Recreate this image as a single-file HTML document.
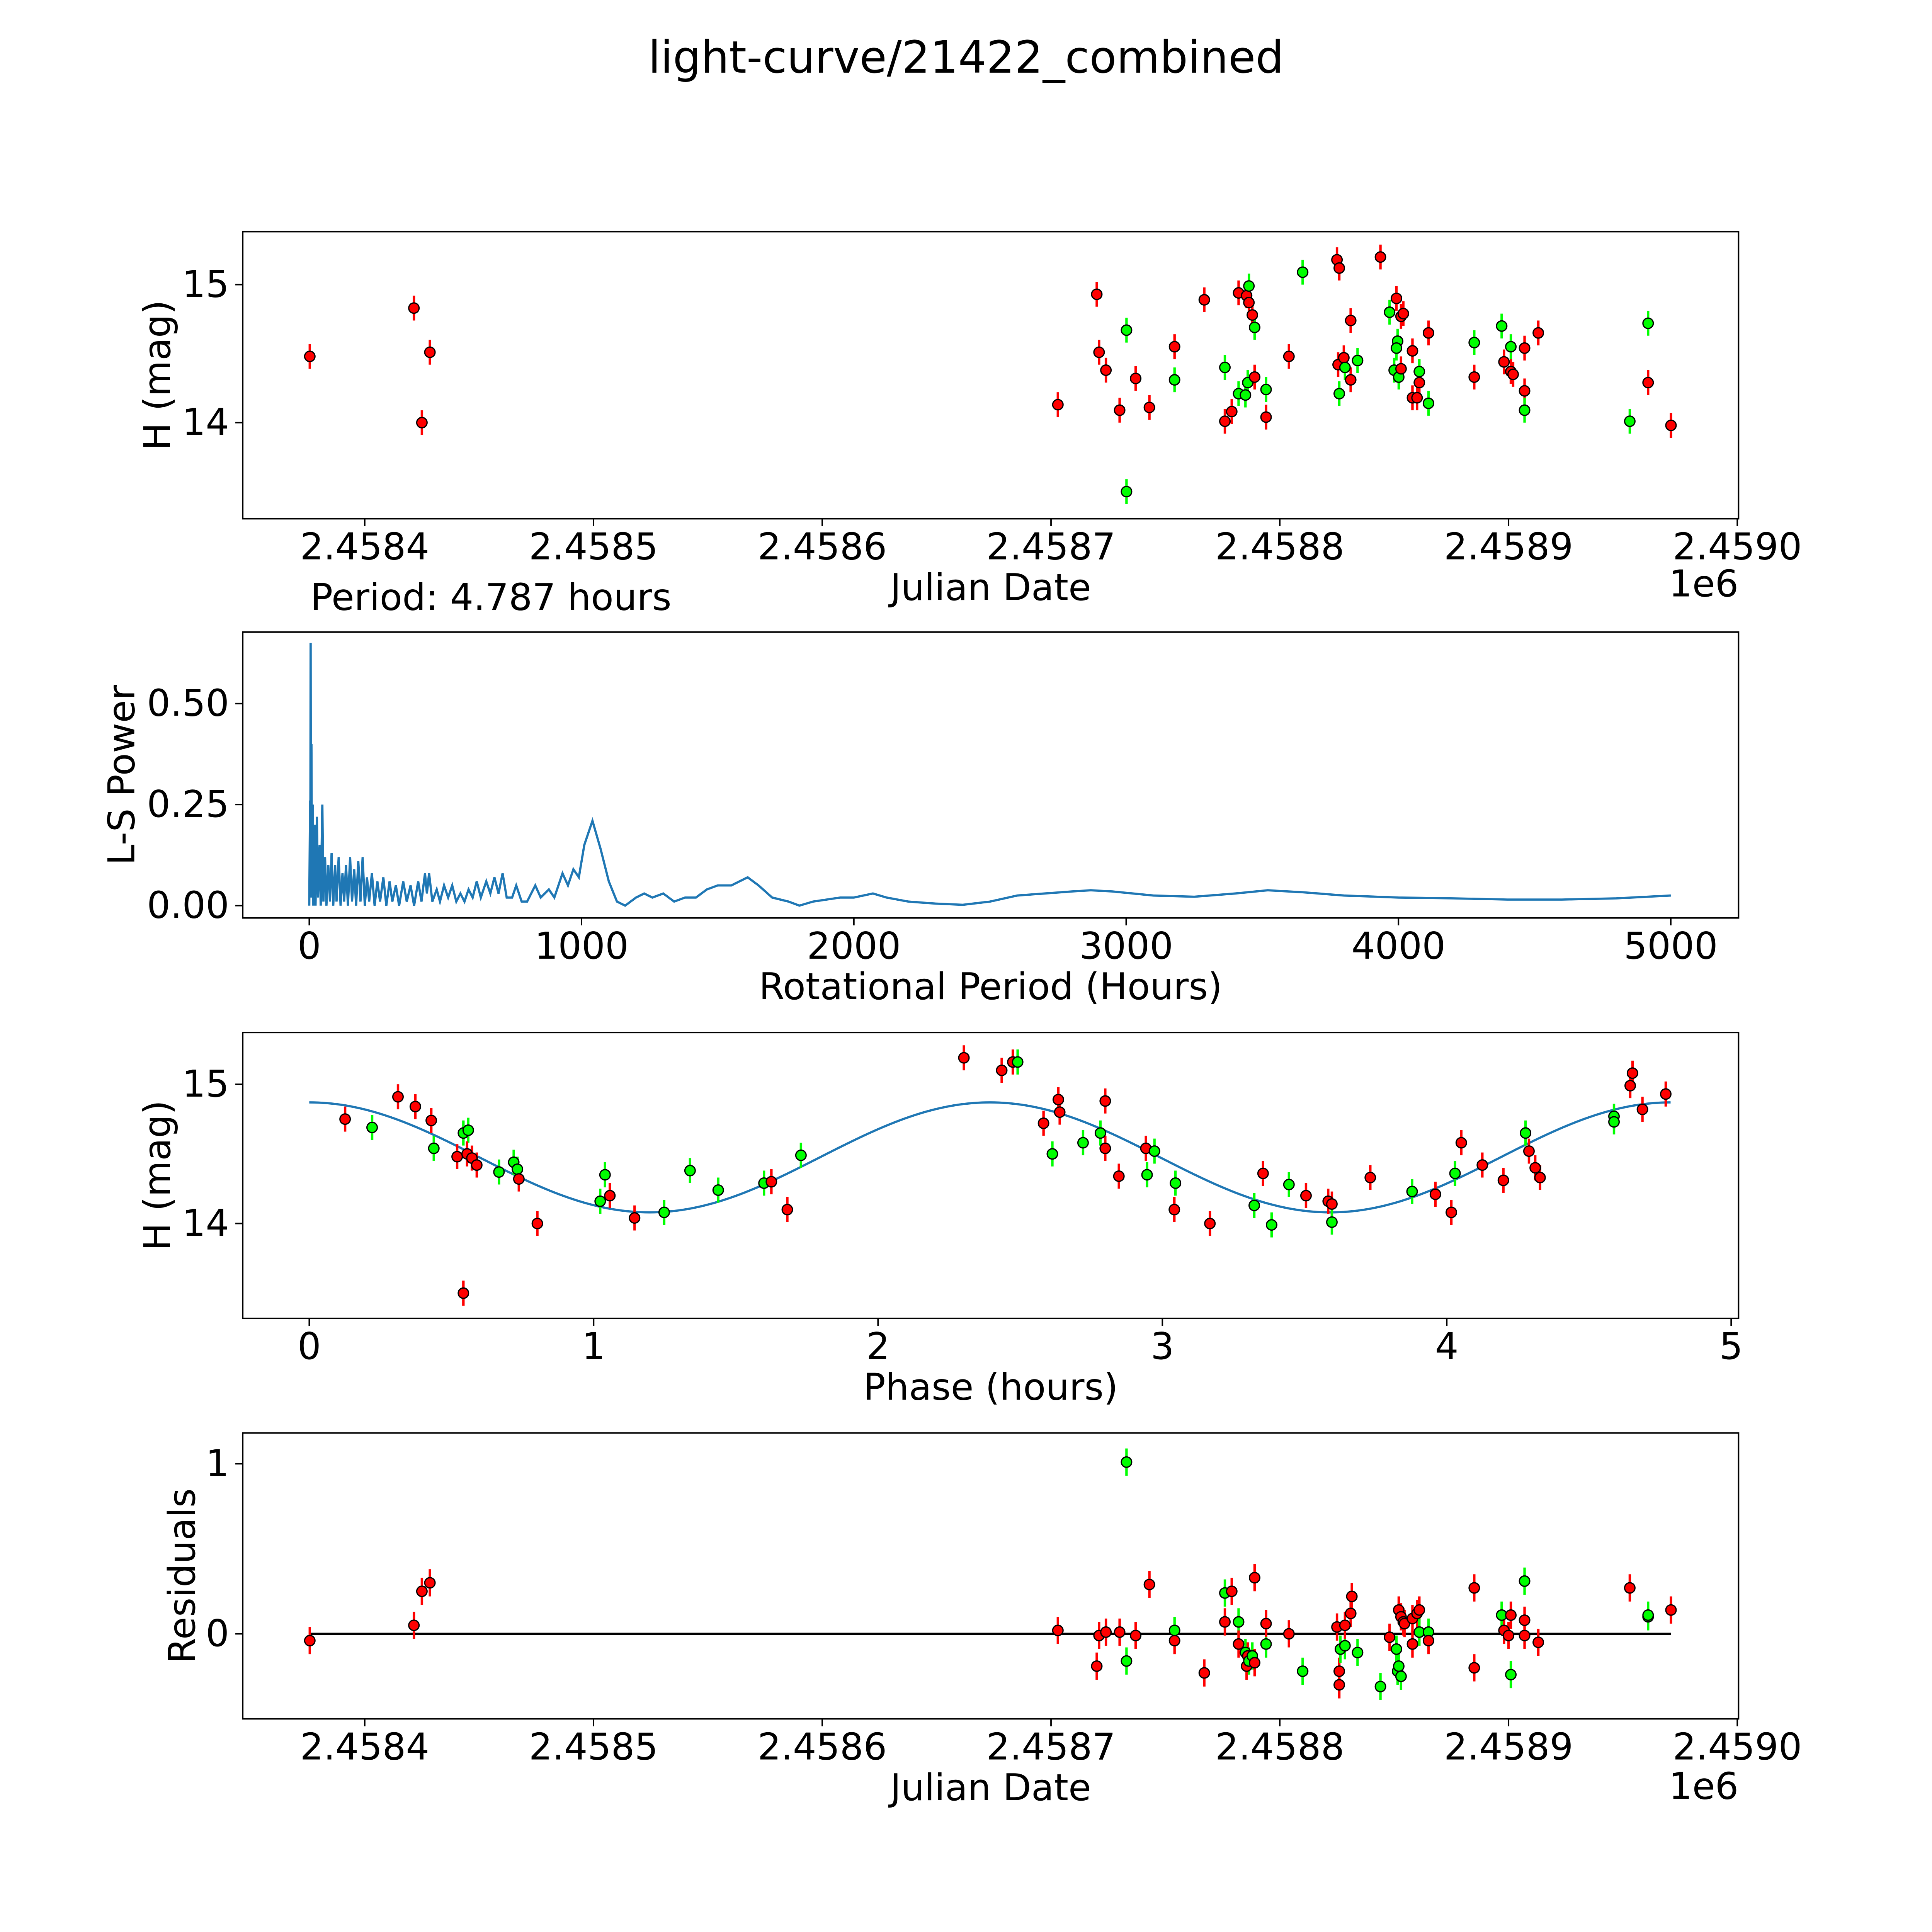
<!DOCTYPE html>
<html><head><meta charset="utf-8">
<style>html,body{margin:0;padding:0;background:#fff;overflow:hidden;width:100vw;height:100vh}svg{display:block;width:100vw;height:100vh}text{font-family:"DejaVu Sans","Liberation Sans",sans-serif;fill:#000}</style>
</head><body>
<svg id="fig" xmlns="http://www.w3.org/2000/svg" viewBox="0 0 1568 1568" preserveAspectRatio="none">
<rect width="1568" height="1568" fill="#fff"/>
<text x="784" y="59" font-size="36" text-anchor="middle">light-curve/21422_combined</text>
<text x="252" y="495" font-size="30">Period: 4.787 hours</text>
</svg>
<script>
// ---- data: panel 1 (JD - 2458000, H mag, color) ----
const lcJd = [376,421.5,425,428.5,703,720,721,724,730,733,733,737,743,754,754,767,776,776,779,782,782,785,785.5,786,786.5,786.5,788,789,789,794,794,804,810,825,826,825.5,826,828,828.5,831,831,834,844,848,851,851.5,851,850,852,853,853,854,858,858,860,861,861,865,865,885,885,897,898,901,901,902,907,907,907,913,953,961,961,971];
const lcMag = [14.48,14.83,14.00,14.51,14.13,14.93,14.51,14.38,14.09,14.67,13.50,14.32,14.11,14.55,14.31,14.89,14.40,14.01,14.08,14.94,14.21,14.20,14.92,14.29,14.99,14.87,14.78,14.69,14.33,14.24,14.04,14.48,15.09,15.18,15.12,14.42,14.21,14.47,14.40,14.74,14.31,14.45,15.20,14.80,14.90,14.59,14.54,14.38,14.33,14.39,14.77,14.79,14.18,14.52,14.18,14.37,14.29,14.14,14.65,14.58,14.33,14.70,14.44,14.55,14.37,14.35,14.23,14.09,14.54,14.65,14.01,14.72,14.29,13.98];
const lcBand = "rrrrrrrrrggrrrgrgrrrggrggrrgrgrrgrrrgrgrrgrgrggggrrrrrrgrgrgrgrgrrrgrrggr";
const lcErr = 0.09;
// ---- data: periodogram ----
const lsPeriod = [0,3,4,5,6,8,10,13,15,20,23,28,32,38,42,48,52,58,63,70,76,82,88,95,100,108,115,122,128,135,142,150,157,165,172,180,188,196,204,212,220,230,240,250,260,272,283,295,305,318,330,345,358,372,385,400,412,425,432,440,452,468,480,495,510,525,540,555,570,585,600,615,630,650,665,680,695,710,725,745,760,780,800,830,850,880,900,930,950,970,990,1010,1040,1070,1100,1130,1160,1200,1230,1260,1300,1340,1380,1420,1460,1500,1550,1610,1650,1700,1760,1800,1850,1900,1950,2000,2070,2120,2200,2300,2400,2500,2600,2700,2800,2870,2950,3100,3250,3400,3520,3650,3800,4000,4200,4400,4600,4800,5000];
const lsPower = [0,0.26,0.1,0.65,0.02,0.4,0.05,0.25,0,0.2,0,0.22,0.02,0.15,0,0.25,0.01,0.12,0,0.1,0.01,0.13,0,0.1,0.01,0.12,0,0.08,0.01,0.1,0,0.12,0.01,0.09,0,0.11,0.01,0.12,0,0.07,0.01,0.08,0,0.06,0.01,0.07,0,0.06,0.01,0.05,0,0.06,0.01,0.05,0,0.06,0.01,0.08,0.03,0.08,0.01,0.04,0.01,0.05,0.02,0.05,0.01,0.03,0.01,0.04,0.02,0.06,0.02,0.06,0.03,0.07,0.03,0.08,0.02,0.02,0.05,0.01,0.01,0.05,0.02,0.04,0.02,0.08,0.05,0.09,0.07,0.15,0.21,0.14,0.06,0.01,0,0.02,0.03,0.02,0.03,0.01,0.02,0.02,0.04,0.05,0.05,0.07,0.05,0.02,0.01,0,0.01,0.015,0.02,0.02,0.03,0.02,0.01,0.005,0.002,0.01,0.025,0.03,0.035,0.038,0.035,0.025,0.022,0.03,0.038,0.033,0.025,0.02,0.018,0.015,0.015,0.018,0.025];
// ---- data: phase-folded ----
const phPhase = [0.126,0.221,0.312,0.373,0.429,0.438,0.52,0.542,0.559,0.542,0.555,0.572,0.589,0.667,0.719,0.732,0.737,0.802,1.023,1.040,1.057,1.144,1.248,1.339,1.438,1.599,1.625,1.681,1.729,2.302,2.435,2.474,2.491,2.582,2.613,2.634,2.639,2.721,2.782,2.799,2.799,2.847,2.942,2.946,2.972,3.046,3.042,3.167,3.323,3.354,3.384,3.445,3.505,3.583,3.596,3.596,3.731,3.878,3.960,4.016,4.029,4.051,4.125,4.199,4.277,4.289,4.311,4.328,4.588,4.588,4.645,4.653,4.688,4.770];
const phMag = [14.75,14.69,14.91,14.84,14.74,14.54,14.48,14.65,14.67,13.50,14.50,14.47,14.42,14.37,14.44,14.39,14.32,14.00,14.16,14.35,14.20,14.04,14.08,14.38,14.24,14.29,14.30,14.10,14.49,15.19,15.10,15.16,15.16,14.72,14.50,14.89,14.80,14.58,14.65,14.54,14.88,14.34,14.54,14.35,14.52,14.29,14.10,14.00,14.13,14.36,13.99,14.28,14.20,14.16,14.14,14.01,14.33,14.23,14.21,14.08,14.36,14.58,14.42,14.31,14.65,14.52,14.40,14.33,14.77,14.73,14.99,15.08,14.82,14.93];
const phBand = "rgrrrgrggrrrrgggrrggrrggggrrgrrrgrgrrggrrrrgggrrgrggrrrgrgrrgrrrgrrrggrr";
const modelMean = 14.475, modelAmp = 0.395, modelHalfPeriod = 2.3935, modelEnd = 4.787;
// ---- data: residuals ----
const resJd = [376,421.5,425,428.5,703,720,721,724,730,733,733,737,743,754,754,767,776,776,779,782,782,785,785.5,786,786.5,788,789,789,794,794,804,810,825,826,826,826.5,828.5,828.5,831,831.5,834,844,848,851,851.5,852,852,853,854,854.5,853,858,858,860,861,861,865,865,885,885,897,898,900,901,901,907,907,907,913,953,961,961,971];
const resVal = [-0.04,0.05,0.25,0.30,0.02,-0.19,-0.01,0.01,0.01,-0.16,1.01,-0.01,0.29,0.02,-0.04,-0.23,0.24,0.07,0.25,0.07,-0.06,-0.11,-0.19,-0.13,-0.16,-0.13,0.33,-0.17,-0.06,0.06,0,-0.22,0.04,-0.22,-0.30,-0.09,-0.07,0.05,0.12,0.22,-0.11,-0.31,-0.02,-0.09,-0.22,0.14,-0.19,0.10,0.07,0.06,-0.25,0.09,-0.06,0.12,0.14,0.01,0.01,-0.04,0.27,-0.20,0.11,0.02,-0.01,0.11,-0.24,0.31,0.08,-0.01,-0.05,0.27,0.10,0.11,0.14];
const resBand = "rrrrrrrrrggrrgrrgrrgrgrrggrrgrrgrrrggrrrggrggrgrrrgrrrrggrrrgrrrggrrrrggr";
const resErr = 0.08;

const svg = document.getElementById('fig');
const NS = 'http://www.w3.org/2000/svg';
const FS = 30;
function mk(tag, attrs, parent){const e=document.createElementNS(NS,tag);for(const k in attrs)e.setAttribute(k,attrs[k]);(parent||svg).appendChild(e);return e;}
function lin(d0,d1,p0,p1){return v=>p0+(v-d0)*(p1-p0)/(d1-d0);}
const COL={r:'#ff0000',g:'#00ff00'};

function axes(name,y0,y1,xs,xt,xl,ys,yt,yl,xlabel,ylabel,ylx){
  const g=mk('g',{});
  
  
  xt.forEach((v,i)=>{const x=xs(v);mk('line',{x1:x,x2:x,y1:y1,y2:y1+6,stroke:'#000','stroke-width':1.2},g);
    const t=mk('text',{x:x,y:y1+33,'font-size':FS,'text-anchor':'middle'},g);t.textContent=xl[i];
    
    });
  yt.forEach((v,i)=>{const y=ys(v);mk('line',{x1:191,x2:197,y1:y,y2:y,stroke:'#000','stroke-width':1.2},g);
    const t=mk('text',{x:186,y:y+10,'font-size':FS,'text-anchor':'end'},g);t.textContent=yl[i];
    
    });
  const xt2=mk('text',{x:804,y:y1+66,'font-size':FS,'text-anchor':'middle'},g);xt2.textContent=xlabel;
  
  
  const yc=(y0+y1)/2;
  const yt2=mk('text',{x:ylx,y:yc,'font-size':FS,'text-anchor':'middle',transform:`rotate(-90 ${ylx} ${yc})`},g);yt2.textContent=ylabel;
  
  
  return g;
}
function frame(y0,y1){const r=mk('rect',{x:197,y:y0,width:1214,height:y1-y0,fill:'none',stroke:'#000','stroke-width':1.2});
  
  }
function points(xsArr,ysArr,band,err,xs,ys,name){
  const g=mk('g',{});
  
  
  xsArr.forEach((v,i)=>{const x=xs(v);const c=COL[band[i]]||'#ff0000';
    mk('line',{x1:x,x2:x,y1:ys(ysArr[i]-err),y2:ys(ysArr[i]+err),stroke:c,'stroke-width':2},g);});
  xsArr.forEach((v,i)=>{const c=COL[band[i]]||'#ff0000';
    const p=mk('circle',{cx:xs(v),cy:ys(ysArr[i]),r:4.2,fill:c,stroke:'#000','stroke-width':1},g);
    
    });
}
const jdX = lin(400,1000,296,1410);
const jdTicks=[400,500,600,700,800,900,1000], jdLabels=['2.4584','2.4585','2.4586','2.4587','2.4588','2.4589','2.4590'];

// Panel 1
const y1s = lin(14,15,343,231);
axes('light-curve',188,421,jdX,jdTicks,jdLabels,y1s,[14,15],['14','15'],'Julian Date','H (mag)',138);
points(lcJd,lcMag,lcBand,lcErr,jdX,y1s,'light-curve-points');
frame(188,421);
let e=mk('text',{x:1411,y:484,'font-size':FS,'text-anchor':'end'});e.textContent='1e6';



// Panel 2
const x2s = lin(0,5000,251,1356), y2s = lin(0,0.5,735,571);
axes('periodogram',513,745,x2s,[0,1000,2000,3000,4000,5000],['0','1000','2000','3000','4000','5000'],y2s,[0,0.25,0.5],['0.00','0.25','0.50'],'Rotational Period (Hours)','L-S Power',109);
let d=lsPeriod.map((p,i)=>(i?'L':'M')+x2s(p).toFixed(2)+' '+y2s(lsPower[i]).toFixed(2)).join(' ');
e=mk('path',{d:d,fill:'none',stroke:'#1f77b4','stroke-width':1.8});


frame(513,745);

// Panel 3
const x3s = lin(0,5,251,1405), y3s = lin(14,15,993,880);
axes('phase-fold',838,1070,x3s,[0,1,2,3,4,5],['0','1','2','3','4','5'],y3s,[14,15],['14','15'],'Phase (hours)','H (mag)',138);
let pts=[];for(let i=0;i<=300;i++){const p=modelEnd*i/300;pts.push((i?'L':'M')+x3s(p).toFixed(2)+' '+y3s(modelMean+modelAmp*Math.cos(2*Math.PI*p/modelHalfPeriod)).toFixed(2));}
e=mk('path',{d:pts.join(' '),fill:'none',stroke:'#1f77b4','stroke-width':1.8});


points(phPhase,phMag,phBand,lcErr,x3s,y3s,'phase-points');
frame(838,1070);

// Panel 4
const y4s = lin(0,1,1326,1188);
axes('residuals',1163,1395,jdX,jdTicks,jdLabels,y4s,[0,1],['0','1'],'Julian Date','Residuals',158);
e=mk('line',{x1:jdX(376),x2:jdX(971),y1:y4s(0),y2:y4s(0),stroke:'#000','stroke-width':1.8});


points(resJd,resVal,resBand,resErr,jdX,y4s,'residual-points');
frame(1163,1395);
e=mk('text',{x:1411,y:1460,'font-size':FS,'text-anchor':'end'});e.textContent='1e6';


</script>
</body></html>
